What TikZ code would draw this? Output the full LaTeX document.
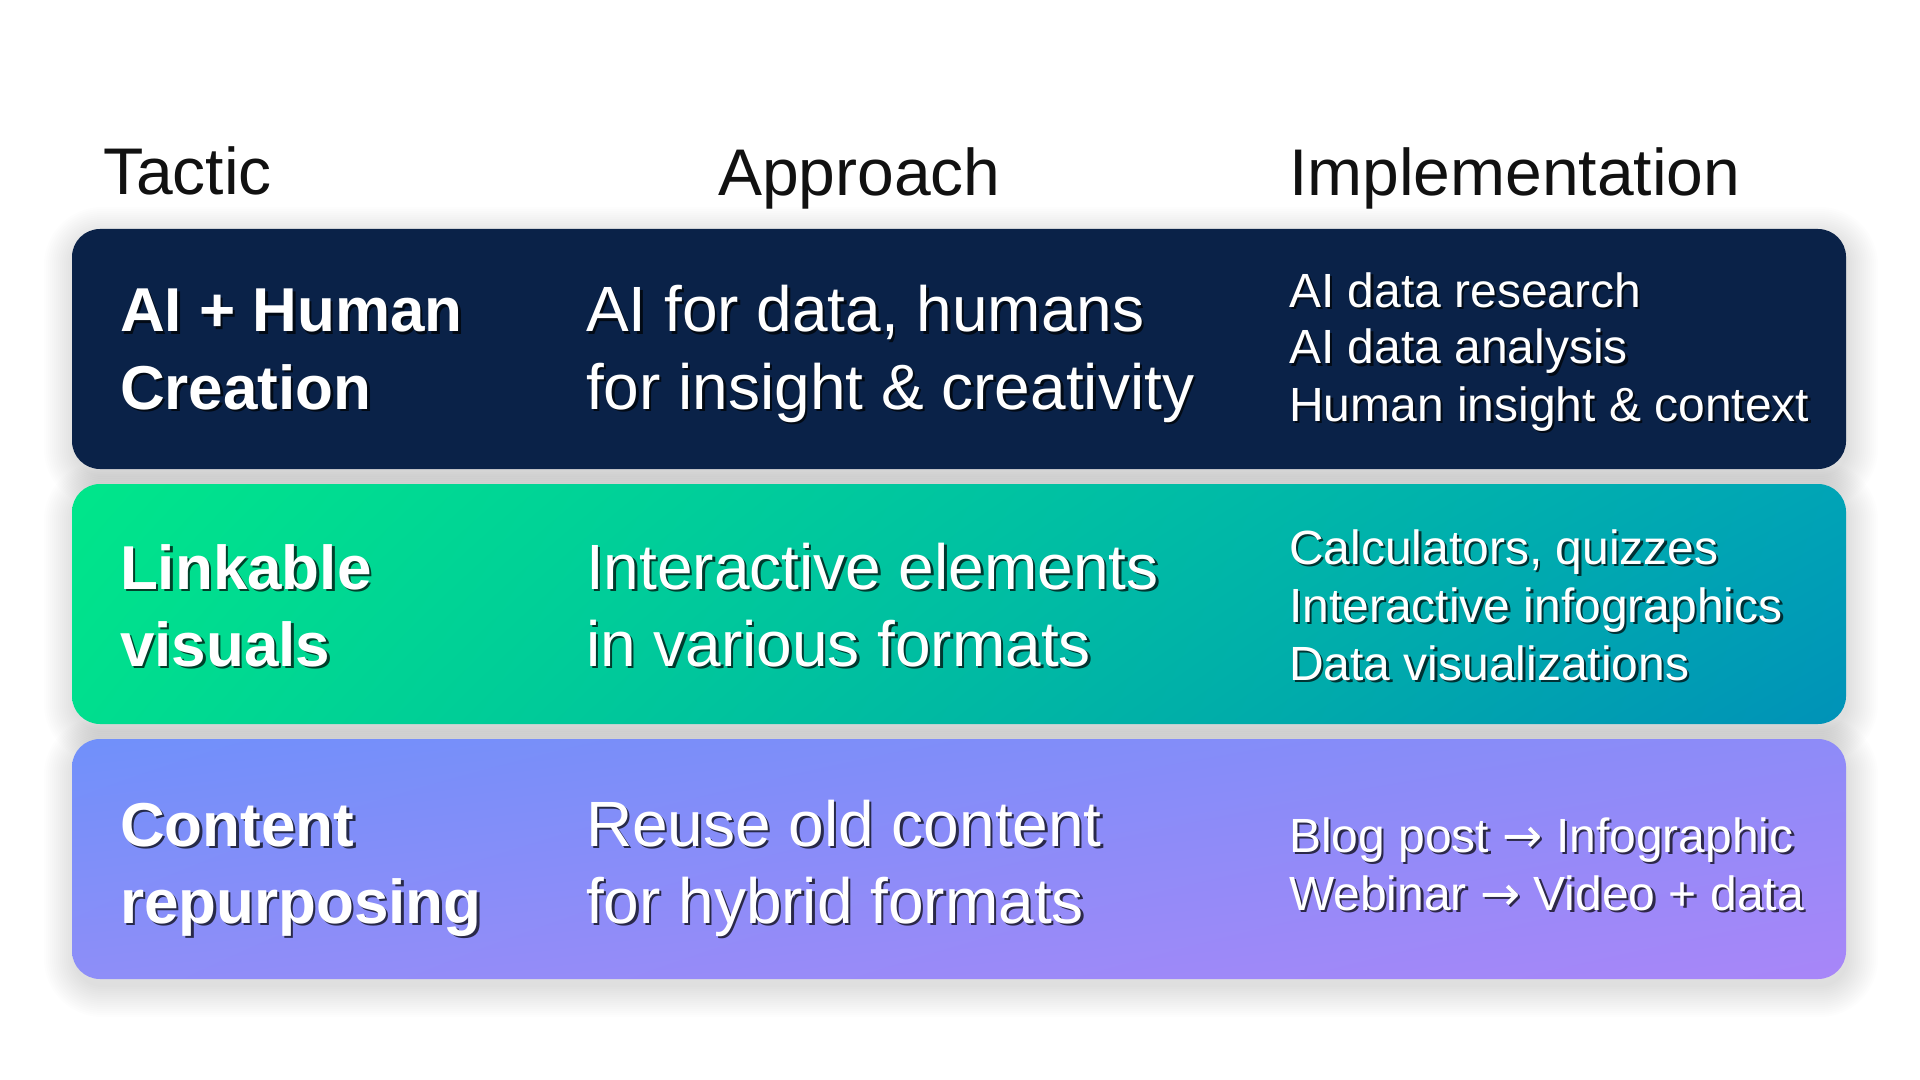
\documentclass[tikz,border=0pt]{standalone}
\usepackage{fontspec}
\setmainfont{Liberation Sans}
\newfontfamily\arrowfont{DejaVu Sans}
\usetikzlibrary{shadings}
\definecolor{navy}{HTML}{0A2248}
\definecolor{hdrc}{HTML}{111111}
\definecolor{gUL}{HTML}{00E68A}
\definecolor{gLL}{HTML}{00DE8E}
\definecolor{gUR}{HTML}{00A4B6}
\definecolor{gLR}{HTML}{0092B8}
\definecolor{pUL}{HTML}{7090FA}
\definecolor{pUR}{HTML}{8E8BF8}
\definecolor{pLL}{HTML}{8E8EF8}
\definecolor{pLR}{HTML}{A886F8}
\newcommand\rarr{{\arrowfont →}}
\tikzset{
  hdr/.style={font=\fontsize{33pt}{39pt}\selectfont, text=hdrc, inner sep=0pt, outer sep=0pt, anchor=base west},
  tac/.style={font=\fontsize{31pt}{37pt}\selectfont\bfseries},
  apr/.style={font=\fontsize{32pt}{38pt}\selectfont},
  imp/.style={font=\fontsize{24pt}{28pt}\selectfont},
  txtsh/.style={text=black, text opacity=0.7, inner sep=0pt, outer sep=0pt, anchor=base west},
  txtw/.style={text=white, inner sep=0pt, outer sep=0pt, anchor=base west},
  rowbox/.style={rounded corners=14pt},
}
\newcommand\shtxt[5]{%
  \node[txtsh,#4] (#1-sh) at ([shift={(2.5,2.5)}]#2,#3) {#5};
  \node[txtw,#4] (#1) at (#2,#3) {#5};}
\newcommand\boxshadow[4]{%
  \foreach \k in {0,2,...,30}{%
    \pgfmathsetmacro\rr{14+\k*0.5}
    \fill[black, opacity=0.009, rounded corners=\rr pt]
      (#1-\k+2,#2-\k+8) rectangle (#3+\k+2,#4+\k+8);
  }}
\begin{document}
\begin{tikzpicture}[x=0.5pt,y=-0.5pt]
  \useasboundingbox[fill=white] (0,0) rectangle (1920,1080);

  % headers
  \node[hdr] (hTactic) at (103,195) {Tactic};
  \node[hdr] (hApproach) at (718,196) {Approach};
  \node[hdr] (hImpl) at (1289,196) {Implementation};

  % soft shadows of the rows
  \boxshadow{72}{229}{1846}{469}
  \boxshadow{72}{484}{1846}{724}
  \boxshadow{72}{739}{1846}{979}

  % rows
  \fill[rowbox, navy] (72,229) rectangle (1846,469);
  \shade[rowbox, upper left=gUL, upper right=gUR, lower left=gLL, lower right=gLR]
    (72,484) rectangle (1846,724);
  \shade[rowbox, upper left=pUL, upper right=pUR, lower left=pLL, lower right=pLR]
    (72,739) rectangle (1846,979);

  % row 1
  \shtxt{r1t1}{120}{332}{tac}{AI + Human}
  \shtxt{r1t2}{120}{409}{tac}{Creation}
  \shtxt{r1a1}{586}{332}{apr}{AI for data, humans}
  \shtxt{r1a2}{586}{409}{apr}{for insight \& creativity}
  \shtxt{r1i1}{1289}{307}{imp}{AI data research}
  \shtxt{r1i2}{1289}{364}{imp}{AI data analysis}
  \shtxt{r1i3}{1289}{421}{imp}{Human insight \& context}

  % row 2
  \shtxt{r2t1}{120}{589}{tac}{Linkable}
  \shtxt{r2t2}{120}{666}{tac}{visuals}
  \shtxt{r2a1}{586}{589}{apr}{Interactive elements}
  \shtxt{r2a2}{586}{666}{apr}{in various formats}
  \shtxt{r2i1}{1289}{564}{imp}{Calculators, quizzes}
  \shtxt{r2i2}{1289}{622}{imp}{Interactive infographics}
  \shtxt{r2i3}{1289}{680}{imp}{Data visualizations}

  % row 3
  \shtxt{r3t1}{120}{846}{tac}{Content}
  \shtxt{r3t2}{120}{923}{tac}{repurposing}
  \shtxt{r3a1}{586}{846}{apr}{Reuse old content}
  \shtxt{r3a2}{586}{923}{apr}{for hybrid formats}
  \shtxt{r3i1}{1289}{852}{imp}{Blog post \rarr{} Infographic}
  \shtxt{r3i2}{1289}{910}{imp}{Webinar \rarr{} Video + data}
\end{tikzpicture}
\end{document}
